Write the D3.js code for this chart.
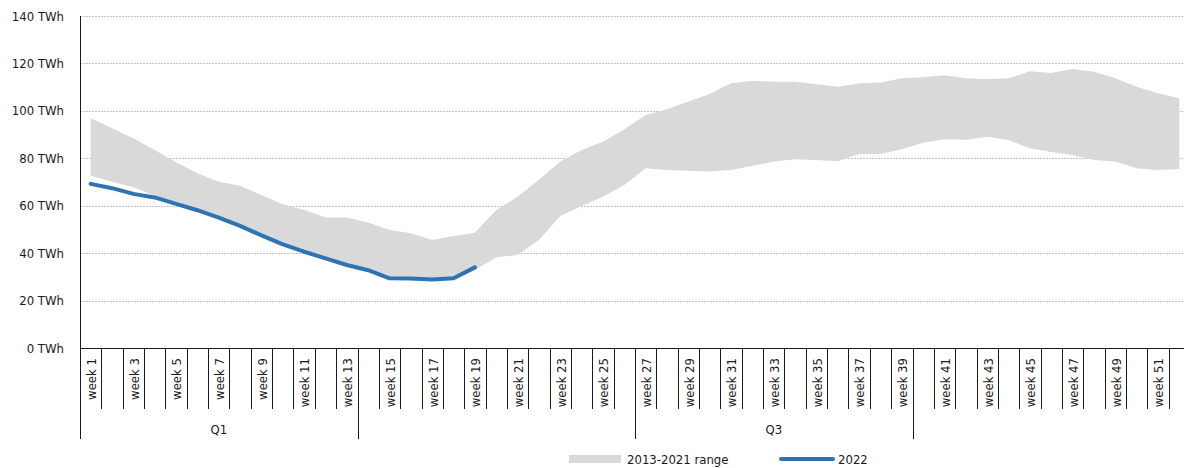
<!DOCTYPE html>
<html>
<head>
<meta charset="utf-8">
<script src="https://cdn.jsdelivr.net/npm/d3@7/dist/d3.min.js"></script>
<style>
  html, body { margin: 0; padding: 0; background: #fff; }
  svg { display: block; }
  text { font-family: "DejaVu Sans Condensed", "DejaVu Sans", sans-serif; fill: #1a1a1a; }
</style>
</head>
<body>
<svg id="chart" width="1184" height="468"></svg>
<script>
// Weekly categories
const weekNumbers = [1,2,3,4,5,6,7,8,9,10,11,12,13,14,15,16,17,18,19,20,21,22,23,24,25,26,
  27,28,29,30,31,32,33,34,35,36,37,38,39,40,41,42,43,44,45,46,47,48,49,50,51,52];

// Quarter groups (first week, last week, label shown)
const quarters = [
  { q: "Q1", from: 1, to: 13, show: true },
  { q: "Q2", from: 14, to: 26, show: false },
  { q: "Q3", from: 27, to: 39, show: true },
  { q: "Q4", from: 40, to: 52, show: false }
];

// 2013-2021 range, TWh
const rangeMax = [96.9, 92.7, 88.4, 83.5, 78.3, 73.7, 70.1, 68.4, 64.5, 60.6, 58.2, 55.0, 55.0,
  52.9, 49.8, 48.4, 45.5, 47.2, 48.6, 58.2, 63.8, 70.9, 78.6, 83.5, 87.0, 92.2,
  98.3, 100.7, 103.9, 107.1, 111.6, 112.7, 112.3, 112.3, 111.2, 110.2, 111.5, 112.0, 113.7,
  114.2, 115.0, 113.7, 113.3, 113.7, 116.7, 116.0, 117.7, 116.5, 113.7, 110.2, 107.4, 105.3];
const rangeMin = [72.6, 70.1, 67.8, 64.2, 60.2, 57.5, 54.4, 50.9, 46.9, 43.1, 40.0, 37.2, 34.4,
  32.2, 28.8, 28.7, 28.3, 28.8, 32.9, 38.3, 39.2, 45.5, 55.7, 59.9, 63.8, 68.7,
  75.8, 75.1, 74.7, 74.4, 75.1, 76.8, 78.6, 79.6, 79.3, 78.7, 81.8, 81.8, 83.8,
  86.6, 88.0, 87.8, 89.1, 87.7, 84.2, 82.7, 81.4, 79.3, 78.6, 75.8, 75.1, 75.5];

// 2022, TWh (weeks 1-19)
const values2022 = [69.2, 67.4, 65.0, 63.5, 60.8, 58.1, 55.0, 51.5, 47.5, 43.7, 40.6, 37.8, 35.0,
  32.8, 29.4, 29.3, 28.9, 29.4, 34.0];

const yTicks = [0, 20, 40, 60, 80, 100, 120, 140];

const svg = d3.select("#chart");
const plotLeft = 80, plotRight = 1190, plotTop = 16, plotBottom = 348;
const fontSize = 13;

const x = d3.scaleBand().domain(weekNumbers).range([plotLeft, plotRight]).padding(0);
const y = d3.scaleLinear().domain([0, 140]).range([plotBottom, plotTop]);
const cx = w => x(w) + x.bandwidth() / 2;

// Gridlines
svg.append("g").selectAll("line").data(yTicks.filter(d => d > 0)).join("line")
  .attr("x1", plotLeft).attr("x2", 1184)
  .attr("y1", d => Math.round(y(d)) + 0.5).attr("y2", d => Math.round(y(d)) + 0.5)
  .attr("stroke", "#c4c4c4").attr("stroke-width", 1).attr("stroke-dasharray", "2,1");

// Y tick labels
svg.append("g").selectAll("text").data(yTicks).join("text")
  .attr("x", 64).attr("y", d => y(d)).attr("dy", "0.35em")
  .attr("text-anchor", "end").attr("font-size", fontSize)
  .text(d => d + " TWh");

// Range band
const band = d3.area()
  .x((d, i) => cx(weekNumbers[i]))
  .y0((d, i) => y(rangeMin[i]))
  .y1(d => y(d));
svg.append("path").datum(rangeMax).attr("d", band).attr("fill", "#d9d9d9");

// 2022 line
const line = d3.line().x((d, i) => cx(weekNumbers[i])).y(d => y(d));
svg.append("path").datum(values2022).attr("d", line)
  .attr("fill", "none").attr("stroke", "#2e74b5").attr("stroke-width", 4)
  .attr("stroke-linejoin", "round").attr("stroke-linecap", "round");

// Axis lines
svg.append("line").attr("x1", plotLeft + 0.5).attr("x2", plotLeft + 0.5).attr("y1", plotTop).attr("y2", plotBottom)
  .attr("stroke", "#1a1a1a").attr("stroke-width", 1);
svg.append("line").attr("x1", plotLeft).attr("x2", 1184).attr("y1", plotBottom + 0.5).attr("y2", plotBottom + 0.5)
  .attr("stroke", "#1a1a1a").attr("stroke-width", 1);

// Week separators
svg.append("g").selectAll("line").data(weekNumbers).join("line")
  .attr("x1", d => Math.round(x(d)) + 0.5).attr("x2", d => Math.round(x(d)) + 0.5)
  .attr("y1", plotBottom).attr("y2", 409)
  .attr("stroke", "#1a1a1a").attr("stroke-width", 1);

// Quarter separators
svg.append("g").selectAll("line").data(quarters).join("line")
  .attr("x1", d => Math.round(x(d.from)) + 0.5).attr("x2", d => Math.round(x(d.from)) + 0.5)
  .attr("y1", plotBottom).attr("y2", 439)
  .attr("stroke", "#1a1a1a").attr("stroke-width", 1);

// Week labels (odd weeks)
svg.append("g").selectAll("text").data(weekNumbers.filter(d => d % 2 === 1)).join("text")
  .attr("transform", d => `translate(${cx(d) + 0.8},358) rotate(-90)`)
  .attr("text-anchor", "end").attr("dy", "0.35em").attr("font-size", fontSize)
  .text(d => "week " + d);

// Quarter labels
svg.append("g").selectAll("text").data(quarters.filter(d => d.show)).join("text")
  .attr("x", d => (x(d.from) + x(d.to) + x.bandwidth()) / 2)
  .attr("y", 429).attr("dy", "0.35em").attr("text-anchor", "middle").attr("font-size", fontSize)
  .text(d => d.q);

// Legend
const lg = svg.append("g");
lg.append("rect").attr("x", 569).attr("y", 455).attr("width", 52).attr("height", 8).attr("fill", "#d9d9d9");
lg.append("text").attr("x", 627).attr("y", 459).attr("dy", "0.35em").attr("font-size", fontSize).text("2013-2021 range");
lg.append("line").attr("x1", 781).attr("x2", 833).attr("y1", 459).attr("y2", 459)
  .attr("stroke", "#2e74b5").attr("stroke-width", 4).attr("stroke-linecap", "round");
lg.append("text").attr("x", 838).attr("y", 459).attr("dy", "0.35em").attr("font-size", fontSize).text("2022");
</script>
</body>
</html>
